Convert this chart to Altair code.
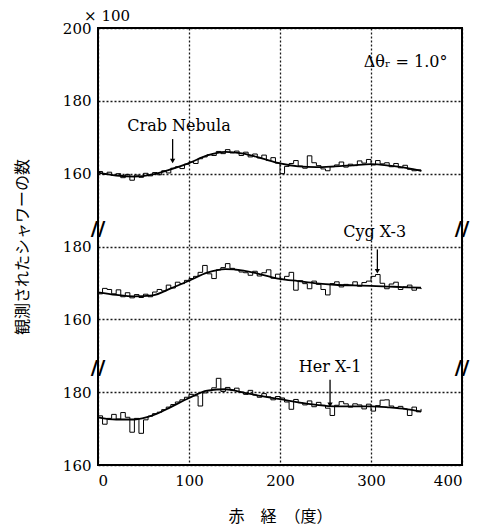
import altair as alt
import pandas as pd

# ---- data ----
step_x = list(range(0, 360, 5))  # right ascension (deg), 5-degree bins

crab_counts = [
    160.6, 159.8, 160.4, 159.5, 160.0, 158.9, 159.8, 158.2, 159.6, 159.0,
    160.1, 159.4, 160.3, 159.7, 160.8, 160.2, 161.5, 161.9, 161.4, 162.6,
    163.2, 162.8, 164.1, 164.6, 165.2, 165.0, 166.1, 165.5, 166.6, 165.7,
    166.2, 165.0, 165.9, 164.6, 165.4, 164.3, 165.1, 163.6, 164.4, 162.9,
    160.0, 162.0, 162.8, 163.6, 162.1, 161.5, 164.9, 163.0, 162.2, 161.3,
    160.8, 161.9, 162.4, 163.2, 161.8, 162.6, 162.2, 163.5, 162.9, 163.9,
    162.4, 163.6, 162.7, 163.0, 161.9, 162.8, 161.6, 162.3, 161.2, 160.8,
    161.0, 160.6,
]
cyg_counts = [
    167.0, 168.5, 168.2, 167.0, 168.1, 166.2, 167.3, 165.9, 166.8, 166.0,
    166.9, 166.2, 167.5, 168.2, 167.8, 169.4, 168.6, 170.2, 169.8, 170.7,
    171.2, 171.8, 172.9, 174.8, 172.5, 171.2, 173.6, 174.2, 175.3, 174.0,
    173.6, 173.0, 172.8, 172.1, 173.2, 171.9, 172.8, 173.6, 171.3, 172.4,
    170.9, 171.8, 172.9, 168.0, 170.6, 169.8, 168.4, 170.5, 169.6, 168.2,
    166.7, 169.8, 170.3, 168.9, 169.6, 169.4, 170.3, 169.1, 170.1, 170.5,
    171.8, 172.3, 169.9, 168.4, 169.7, 170.2, 168.2, 168.9, 169.4, 168.0,
    168.6, 168.3,
]
her_counts = [
    173.5, 171.2, 172.8, 173.9, 172.6, 174.4, 173.1, 169.0, 172.8, 168.7,
    172.4, 173.4, 174.1, 174.5, 175.2, 175.9, 176.6, 177.3, 177.9, 178.6,
    179.4, 179.0, 176.2, 179.8, 180.4, 181.2, 183.8, 180.2, 181.3, 180.6,
    181.1, 180.0, 179.4, 180.5, 179.2, 178.6, 179.6, 178.7, 177.9, 178.8,
    178.4, 177.3, 175.3, 178.0, 177.1, 176.5, 177.6, 176.0, 177.2, 176.4,
    175.6, 173.6, 176.4, 177.4, 176.8, 175.9, 176.8, 176.5, 175.4, 176.7,
    174.8, 176.3, 177.8, 177.9, 176.2, 175.8, 176.1, 175.4, 173.6, 175.9,
    174.6, 175.4,
]

fit_x = [0, 20, 40, 60, 80, 100, 120, 140, 160, 180, 200, 220, 240, 260, 280, 300, 320, 340, 355]
crab_fit = [160.3, 159.5, 159.2, 159.8, 161.2, 162.9, 165.0, 166.0, 165.5, 164.2,
            162.8, 162.0, 161.8, 162.0, 162.3, 162.6, 162.2, 161.5, 160.8]
cyg_fit = [167.4, 166.7, 166.3, 166.6, 168.5, 170.6, 172.8, 173.8, 173.4, 172.3,
           171.1, 170.5, 169.9, 169.5, 169.3, 169.2, 169.0, 168.8, 168.7]
her_fit = [173.1, 172.5, 172.5, 173.6, 175.9, 178.4, 180.4, 180.8, 179.9, 178.9,
           178.1, 177.2, 176.5, 176.1, 176.1, 176.1, 175.8, 175.3, 174.7]

panels = ["Crab Nebula", "Cyg X-3", "Her X-1"]
panel_offsets = [80, 120, 160]  # stacked panels share one frame (axis breaks)

source_ra = [82, 307, 255]
arrow_top = [169.5, 179.2, 183.4]
arrow_tip = [163.5, 173.2, 176.5]
label_ra = [89, 304, 255]
label_y = [173.1, 183.9, 187.0]

y_tick_pos = [0, 20, 40, 60, 80, 100, 120]
x_ticks = [0, 100, 200, 300, 400]
break_y = [64.7, 26.7]

# ---- tables ----
rows_step, rows_fit, rows_ann = [], [], []
for name, off, counts, fit in zip(panels, panel_offsets,
                                  [crab_counts, cyg_counts, her_counts],
                                  [crab_fit, cyg_fit, her_fit]):
    for x, v in zip(step_x, counts):
        rows_step.append({"panel": name, "ra": x, "y": v - off})
    for x, v in zip(fit_x, fit):
        rows_fit.append({"panel": name, "ra": x, "y": v - off})
for name, off, sx, at, tip, lx, ly in zip(panels, panel_offsets, source_ra,
                                          arrow_top, arrow_tip, label_ra, label_y):
    rows_ann.append({"panel": name, "ra": sx, "top": at - off, "tip": tip - off,
                     "lx": lx, "ly": ly - off, "label": name})

steps = pd.DataFrame(rows_step)
fits = pd.DataFrame(rows_fit)
ann = pd.DataFrame(rows_ann)
breaks = pd.DataFrame([{"ra": xx, "y": yy} for yy in break_y for xx in (0, 400)])

xscale = alt.Scale(domain=[0, 400], nice=False)
yscale = alt.Scale(domain=[0, 120], nice=False)

label_expr = "datum.value == 120 ? '200' : (datum.value % 40 == 0 ? '160' : '180')"

base_x = alt.X("ra:Q", scale=xscale, title="赤　経　（度）",
               axis=alt.Axis(values=x_ticks, format="d", ticks=False, domain=False,
                             labelPadding=8, titlePadding=20))
base_y = alt.Y("y:Q", scale=yscale, title="観測されたシャワーの数",
               axis=alt.Axis(values=y_tick_pos, labelExpr=label_expr, ticks=False,
                             domain=False, labelPadding=7, titlePadding=32))

step_layer = alt.Chart(steps).mark_line(
    interpolate="step-after", color="black", strokeWidth=1
).encode(x=base_x, y=base_y, detail="panel:N")

fit_layer = alt.Chart(fits).mark_line(
    interpolate="monotone", color="black", strokeWidth=1.8
).encode(x="ra:Q", y="y:Q", detail="panel:N")

arrow_rule = alt.Chart(ann).mark_rule(color="black", strokeWidth=1.3).encode(
    x="ra:Q", y="top:Q", y2="tip:Q")
arrow_head = alt.Chart(ann).mark_point(
    shape="triangle-down", filled=True, color="black", size=28, opacity=1
).encode(x="ra:Q", y="tip:Q")
labels = alt.Chart(ann).mark_text(
    font="DejaVu Serif", fontSize=16, color="black", baseline="middle"
).encode(x="lx:Q", y="ly:Q", text="label:N")

break_marks = alt.Chart(breaks).mark_text(
    text="//", font="DejaVu Sans", fontSize=20, fontWeight="bold", color="black",
    baseline="middle"
).encode(x="ra:Q", y="y:Q")

scale_note = alt.Chart(pd.DataFrame({"ra": [10], "y": [123.2], "t": ["× 100"]})).mark_text(
    font="DejaVu Serif", fontSize=15, color="black", baseline="middle"
).encode(x="ra:Q", y="y:Q", text="t:N")

delta_note = alt.Chart(pd.DataFrame({"ra": [338], "y": [110.7], "t": ["Δθᵣ = 1.0°"]})).mark_text(
    font="DejaVu Serif", fontSize=16, color="black", baseline="middle"
).encode(x="ra:Q", y="y:Q", text="t:N")

chart = alt.layer(
    step_layer, fit_layer, arrow_rule, arrow_head, labels, break_marks,
    scale_note, delta_note
).properties(
    width=364, height=437,
    padding={"left": 90, "top": 20, "right": 12, "bottom": 62},
    autosize=alt.AutoSizeParams(type="none"),
    background="white",
).configure_view(
    stroke="black", strokeWidth=2
).configure_axis(
    grid=True, gridColor="black", gridDash=[2, 2], gridWidth=1.3, gridOpacity=0.9,
    labelFont="DejaVu Serif", labelFontSize=15, labelColor="black",
    titleFont="Noto Sans CJK JP", titleFontSize=16, titleFontWeight="normal",
    titleColor="black",
)

chart.save("out.html", embed_options={"renderer": "svg", "actions": False})
